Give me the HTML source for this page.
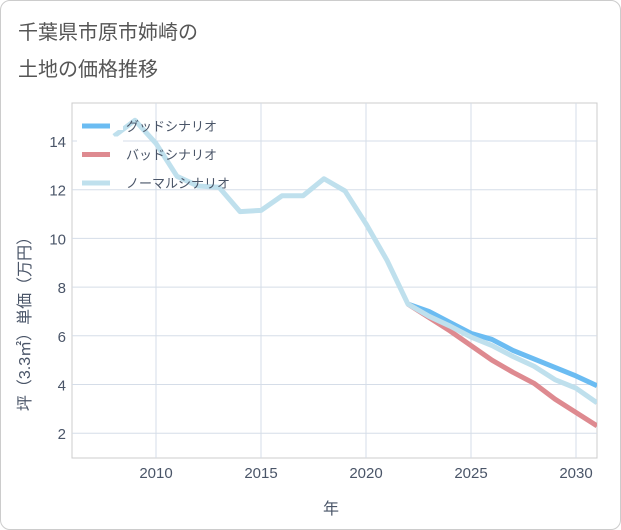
<!DOCTYPE html>
<html><head><meta charset="utf-8"><style>
body{margin:0;background:#fff;font-family:"Liberation Sans","Noto Sans CJK JP",sans-serif;}
#card{position:absolute;left:0;top:0;width:619px;height:528px;border:1px solid #ccc;border-radius:10px;background:#fff;}
</style></head><body>
<div id="card"></div>
<svg width="621" height="530" style="position:absolute;left:0;top:0" id="svg">
<text x="18" y="39" font-size="20" fill="#555">千葉県市原市姉崎の</text>
<text x="18" y="76" font-size="20" fill="#555">土地の価格推移</text>
<g id="grid"></g><g id="lines"></g>
<text x="331" y="514" font-size="16" fill="#4a5568" text-anchor="middle">年</text>
<text transform="translate(30,320) rotate(-90)" font-size="16" fill="#4a5568" text-anchor="middle">坪（3.3㎡）単価（万円）</text>
</svg>
<script>
const years=[2008,2009,2010,2011,2012,2013,2014,2015,2016,2017,2018,2019,2020,2021,2022,2023,2024,2025,2026,2027,2028,2029,2030,2031];
const normal=[14.2,14.85,13.9,12.55,12.15,12.1,11.1,11.15,11.75,11.75,12.45,11.95,10.6,9.1,7.3,6.8,6.4,5.95,5.6,5.15,4.75,4.2,3.85,3.25];
const goodYears=[2022,2023,2024,2025,2026,2027,2028,2029,2030,2031];
const good=[7.3,7.0,6.55,6.1,5.85,5.4,5.05,4.7,4.35,3.95];
const bad=[7.3,6.75,6.2,5.6,5.0,4.5,4.05,3.4,2.85,2.3];
const xTicks=[2010,2015,2020,2025,2030];
const yTicks=[2,4,6,8,10,12,14];
const X=y=>156+(y-2010)*21, Y=v=>141-(v-14)*24.35;
const L=72,R=597,T=103,B=458;
const ns="http://www.w3.org/2000/svg";
const g=document.getElementById('grid'),lg=document.getElementById('lines');
function mk(tag,attrs,parent){const e=document.createElementNS(ns,tag);for(const k in attrs)e.setAttribute(k,attrs[k]);parent.appendChild(e);return e;}
mk('rect',{x:L,y:T,width:R-L,height:B-T,fill:'none',stroke:'#ccc'},g);
xTicks.forEach(t=>{const l=mk('line',{x1:X(t),x2:X(t),y1:T,y2:B,stroke:'#d5dde8'},g);


const tx=mk('text',{x:X(t),y:478,'font-size':15,fill:'#4a5568','text-anchor':'middle'},g);tx.textContent=t;

});
yTicks.forEach(t=>{const l=mk('line',{x1:L,x2:R,y1:Y(t),y2:Y(t),stroke:'#d5dde8'},g);


const tx=mk('text',{x:66,y:Y(t)+6,'font-size':15,fill:'#4a5568','text-anchor':'end'},g);tx.textContent=t;

});
function line(xs,vs,color,name){const p=mk('polyline',{points:xs.map((x,i)=>X(x)+','+Y(vs[i])).join(' '),fill:'none',stroke:color,'stroke-width':5,'stroke-linejoin':'round','clip-path':'url(#clip)'},lg);

}
const defs=mk('defs',{},document.getElementById('svg'));const cp=mk('clipPath',{id:'clip'},defs);mk('rect',{x:L,y:T,width:R-L,height:B-T},cp);
line(goodYears,good,'#6bbcf2','good-scenario-line');
line(goodYears,bad,'#de8a90','bad-scenario-line');
line(years,normal,'#bfe0ed','normal-scenario-line');
const leg=[['グッドシナリオ','#6bbcf2'],['バッドシナリオ','#de8a90'],['ノーマルシナリオ','#bfe0ed']];
leg.forEach((d,i)=>{const y=126+i*28.5;mk('rect',{x:77,y:y-18,width:46,height:22,fill:'#fff'},lg);
const l=mk('line',{x1:82,x2:110,y1:y,y2:y,stroke:d[1],'stroke-width':5},lg);


const t=mk('text',{x:126,y:y+5,'font-size':13,fill:'#4a5568'},lg);t.textContent=d[0];

});
</script>
</body></html>
